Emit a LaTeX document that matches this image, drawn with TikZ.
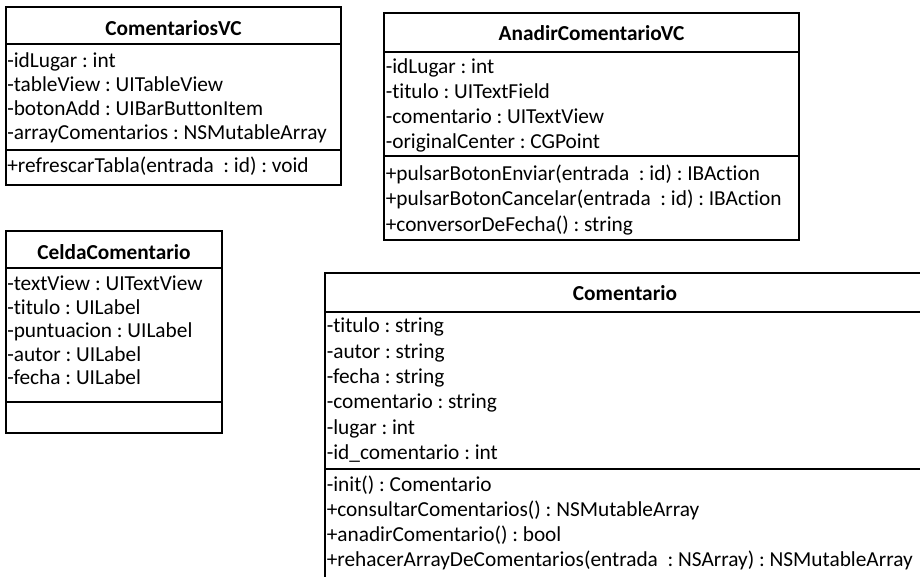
\documentclass[tikz,border=0pt]{standalone}
\usepackage{fontspec}
\setmainfont{Carlito}[Ligatures={NoCommon,NoContextual}]
\frenchspacing
\begin{document}
\begin{tikzpicture}[x=0.75pt,y=-0.75pt,
  umlbox/.style={draw=black, line width=1.5pt, fill=white},
  umlsep/.style={draw=black, line width=1.5pt},
  member/.style={anchor=base west, inner sep=0pt, font=\fontsize{16}{19}\selectfont},
  classname/.style={anchor=base, inner sep=0pt, font=\fontsize{16}{19}\selectfont\bfseries}]
\useasboundingbox (0,0) rectangle (920,576);
\clip (0,0) rectangle (920,576);

% ComentariosVC
\draw[umlbox] (6,7) rectangle (341,185);
\draw[umlsep] (6,44) -- (341,44);
\draw[umlsep] (6,150) -- (341,150);
\node[classname] (cvc) at (173.5,35) {ComentariosVC};
\node[member] (cvc1) at (7,67) {-idLugar : int};
\node[member] (cvc2) at (7,91) {-tableView : UITableView};
\node[member] (cvc3) at (7,115) {-botonAdd : UIBarButtonItem};
\node[member] (cvc4) at (7,139) {-arrayComentarios : NSMutableArray};
\node[member] (cvc5) at (7,172.5) {+refrescarTabla(entrada~ : id) : void};

% AnadirComentarioVC
\draw[umlbox] (384,13) rectangle (799,240);
\draw[umlsep] (384,52) -- (799,52);
\draw[umlsep] (384,156) -- (799,156);
\node[classname] (acv) at (591.5,40) {AnadirComentarioVC};
\node[member] (acv1) at (385.5,73.5) {-idLugar : int};
\node[member] (acv2) at (385.5,98.5) {-titulo : UITextField};
\node[member] (acv3) at (385.5,123.5) {-comentario : UITextView};
\node[member] (acv4) at (385.5,148) {-originalCenter : CGPoint};
\node[member] (acv5) at (385.5,180.5) {+pulsarBotonEnviar(entrada~ : id) : IBAction};
\node[member] (acv6) at (385.5,205.5) {+pulsarBotonCancelar(entrada~ : id) : IBAction};
\node[member] (acv7) at (385.5,231) {+conversorDeFecha() : string};

% CeldaComentario
\draw[umlbox] (6,231) rectangle (222,433);
\draw[umlsep] (6,268) -- (222,268);
\draw[umlsep] (6,402) -- (222,402);
\node[classname] (cel) at (114,259) {CeldaComentario};
\node[member] (cel1) at (7,290.5) {-textView : UITextView};
\node[member] (cel2) at (7,314) {-titulo : UILabel};
\node[member] (cel3) at (7,337.5) {-puntuacion : UILabel};
\node[member] (cel4) at (7,361) {-autor : UILabel};
\node[member] (cel5) at (7,384.5) {-fecha : UILabel};

% Comentario
\draw[umlbox] (325,273) rectangle (925,600);
\draw[umlsep] (325,312) -- (925,312);
\draw[umlsep] (325,469) -- (925,469);
\node[classname] (com) at (625,300) {Comentario};
\node[member] (com1) at (326.5,332.5) {-titulo : string};
\node[member] (com2) at (326.5,358) {-autor : string};
\node[member] (com3) at (326.5,383) {-fecha : string};
\node[member] (com4) at (326.5,408.5) {-comentario : string};
\node[member] (com5) at (326.5,434) {-lugar : int};
\node[member] (com6) at (326.5,459.5) {-id\_comentario : int};
\node[member] (com7) at (326.5,491.5) {-init() : Comentario};
\node[member] (com8) at (326.5,516) {+consultarComentarios() : NSMutableArray};
\node[member] (com9) at (326.5,541) {+anadirComentario() : bool};
\node[member] (com10) at (326.5,566) {+rehacerArrayDeComentarios(entrada~ : NSArray) : NSMutableArray};
\end{tikzpicture}
\end{document}
